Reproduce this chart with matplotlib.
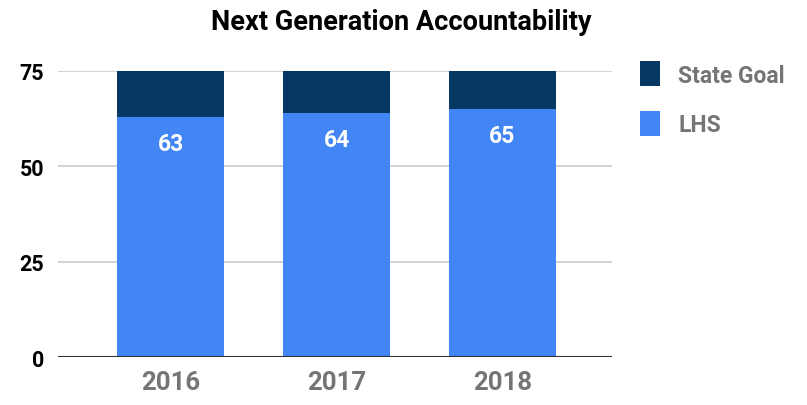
import matplotlib.pyplot as plt
import numpy as np

plt.rcParams['font.family'] = ['Roboto', 'DejaVu Sans']

years = ['2016', '2017', '2018']
lhs = [63, 64, 65]
state_goal = [75, 75, 75]
goal_gap = [g - v for g, v in zip(state_goal, lhs)]

blue = '#4285f4'
navy = '#073763'
gray = '#757575'

fig = plt.figure(figsize=(8.07, 4.06), dpi=100)
ax = fig.add_axes([0.072, 0.118, 0.686, 0.705])

x = np.arange(len(years))
w = 0.645
b1 = ax.bar(x, lhs, w, color=blue, label='LHS', zorder=3)
b2 = ax.bar(x, goal_gap, w, bottom=lhs, color=navy, label='State Goal', zorder=3)

# values printed inside the top of each LHS bar
for xi, v in zip(x, lhs):
    ax.annotate(str(v), (xi, v), xytext=(0, -19), textcoords='offset points',
                ha='center', va='center', color='white', fontsize=16.5,
                fontweight='bold', zorder=4)

ax.set_xlim(-0.68, 2.66)
ax.set_ylim(0, 75)
ax.set_yticks([0, 25, 50, 75])
ax.yaxis.grid(True, color='#cccccc', linewidth=1.2, zorder=0)
ax.axhline(0, color='#333333', linewidth=1.5, zorder=4)
for s in ax.spines.values():
    s.set_visible(False)
ax.tick_params(length=0)
ax.tick_params(axis='y', pad=10, labelsize=15.5)
ax.tick_params(axis='x', pad=9, labelsize=18.5, labelcolor=gray)
ax.set_xticks(x)
ax.set_xticklabels(years)
for t in ax.get_yticklabels():
    t.set_fontweight('bold')
for t in ax.get_xticklabels():
    t.set_fontweight('bold')

fig.text(0.497, 0.945, 'Next Generation Accountability', ha='center', va='center',
         fontsize=19.5, fontweight='bold')

leg = fig.legend([b2, b1], ['State Goal', 'LHS'], loc='upper left',
                 bbox_to_anchor=(0.768, 0.897), frameon=False,
                 prop={'weight': 'bold', 'size': 16.5}, labelcolor=gray,
                 handlelength=0.85, handleheight=1.3, labelspacing=1.05,
                 handletextpad=0.8)

fig.savefig('out.png', dpi=100)
